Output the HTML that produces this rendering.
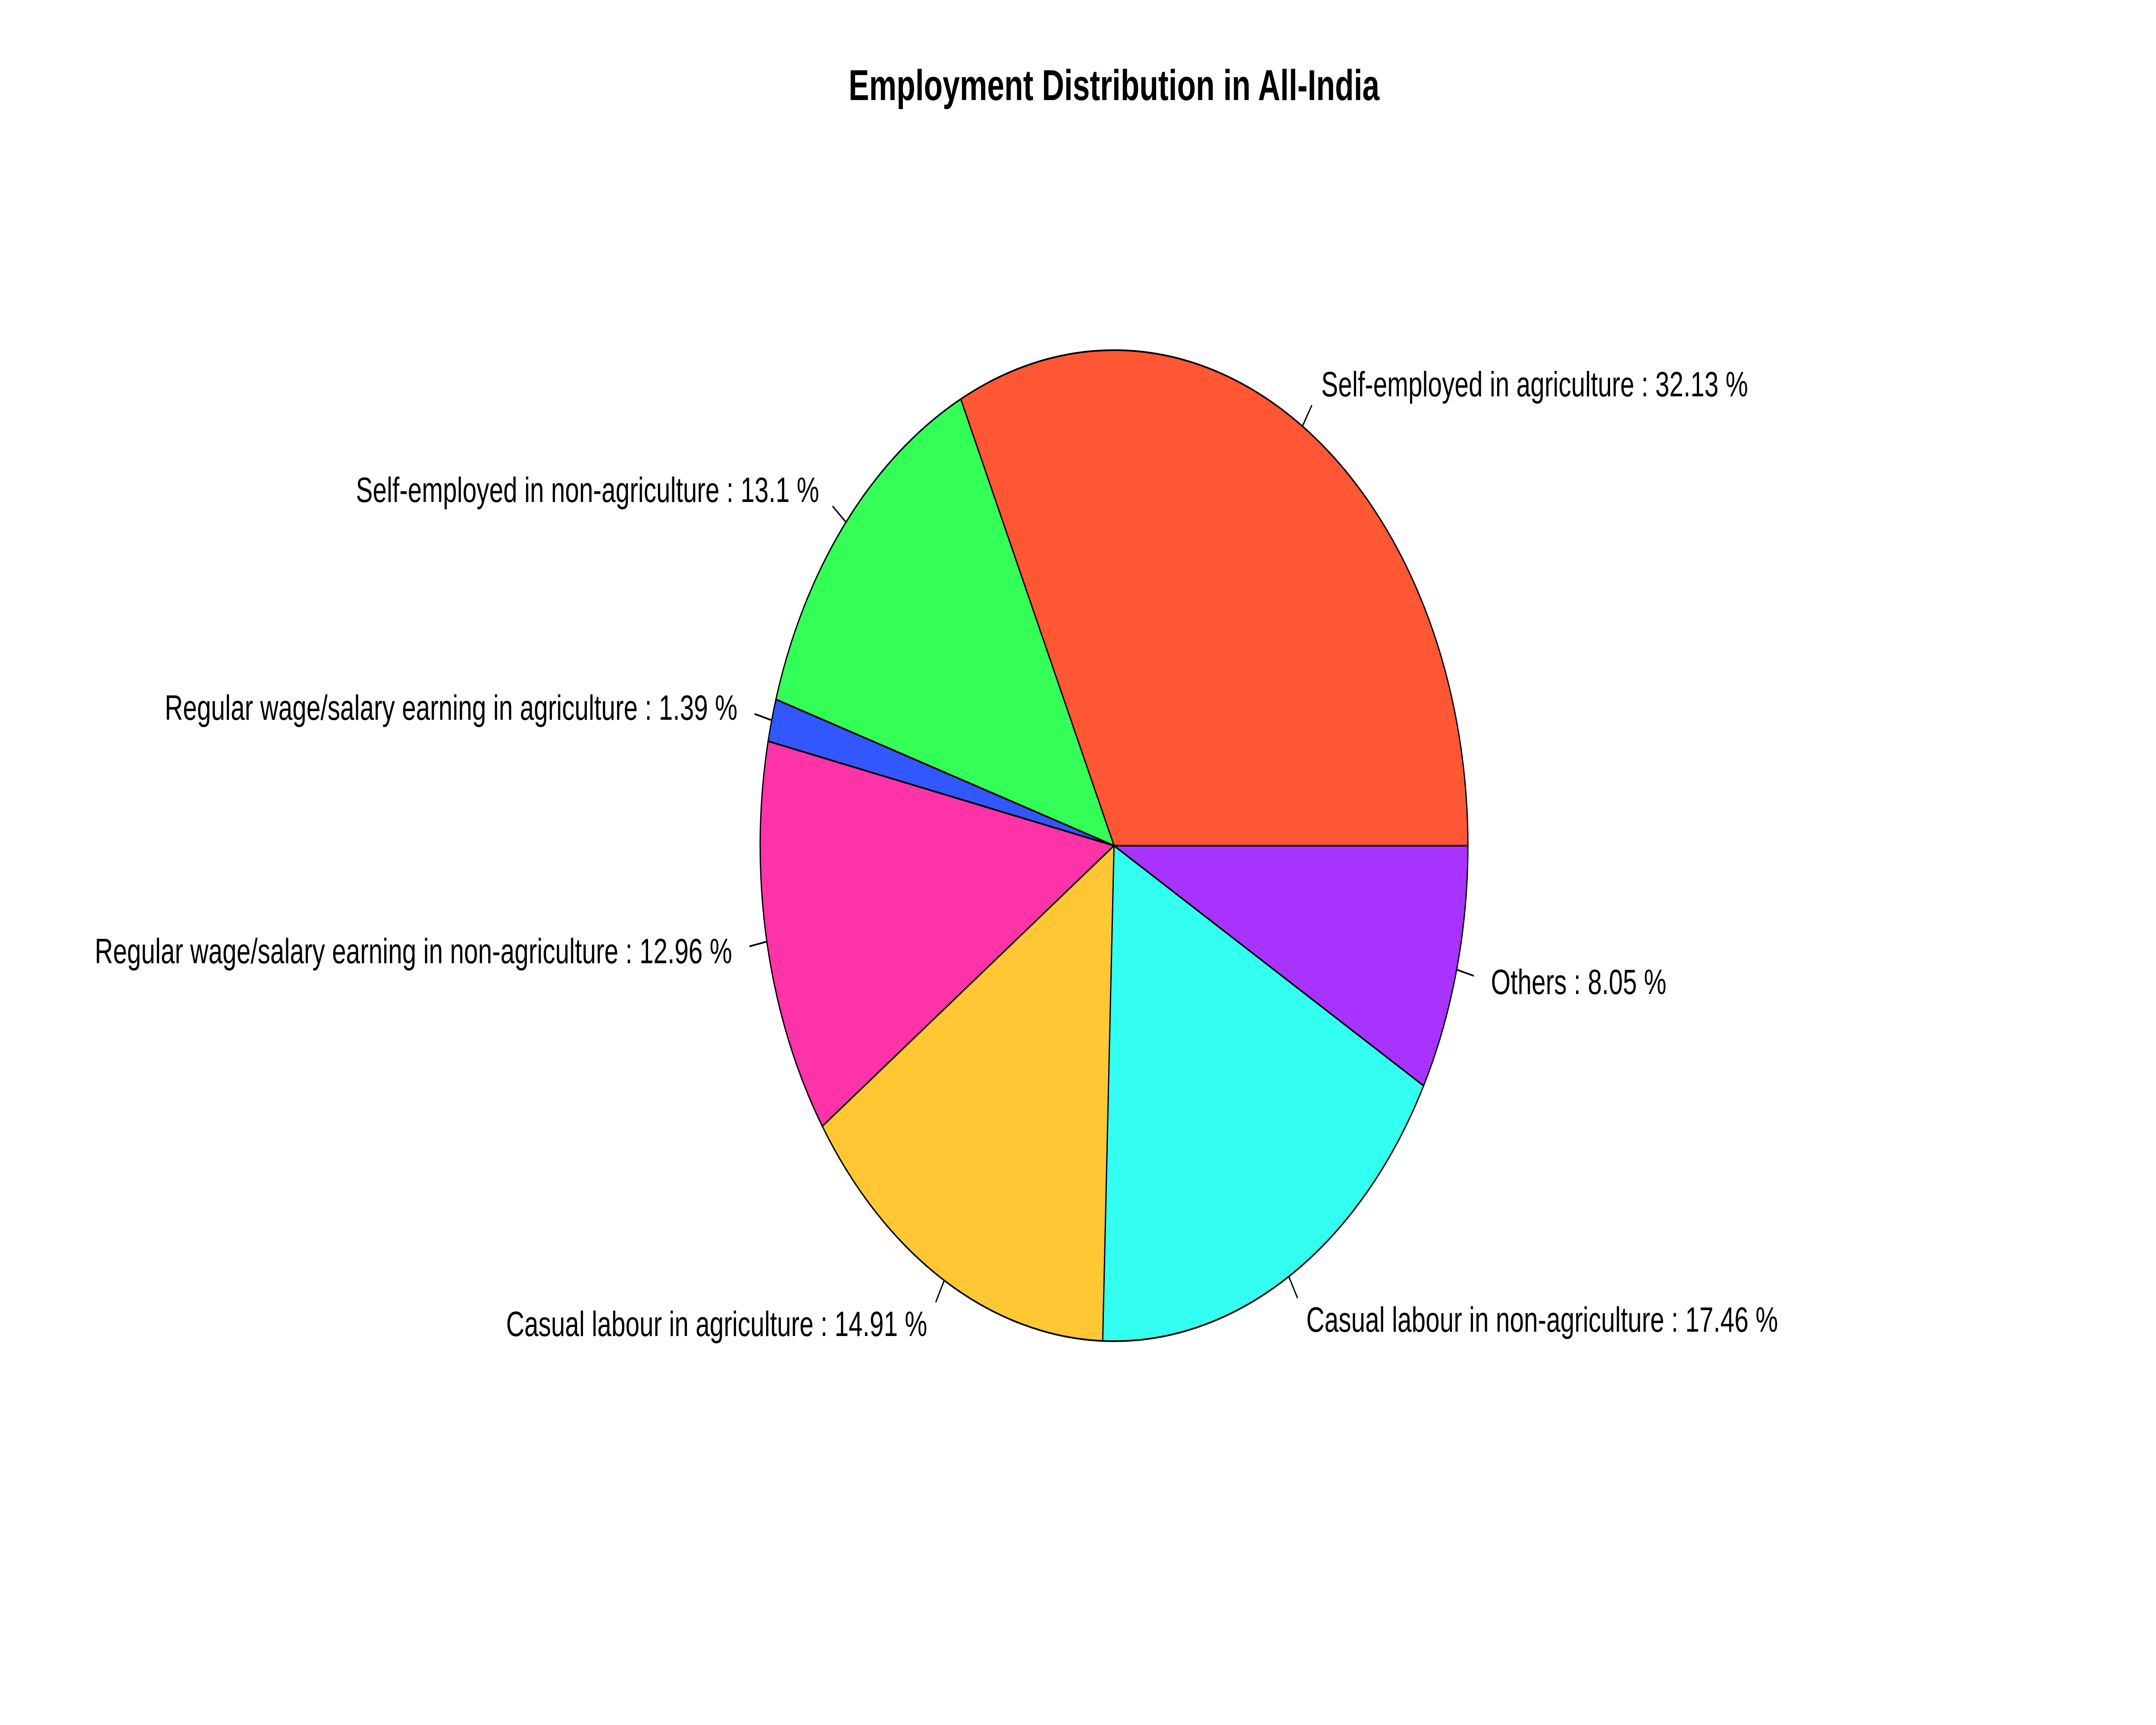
<!DOCTYPE html>
<html><head><meta charset="utf-8"><style>html,body{margin:0;padding:0;background:#fff;width:100%;height:100%;overflow:hidden}svg{display:block;width:100vw;height:100vh}</style></head>
<body>
<svg id="chart" viewBox="0 0 7000 4000" preserveAspectRatio="none" xmlns="http://www.w3.org/2000/svg" font-family="'Liberation Sans', Arial, sans-serif">
<rect width="7000" height="4000" fill="#fff"/>
<text x="3617" y="232" text-anchor="middle" font-size="100" font-weight="bold">Employment Distribution in All-India</text>
<g id="slices"></g>
<g id="labels"></g>
</svg>
<script>
const categories = ["Self-employed in agriculture","Self-employed in non-agriculture","Regular wage/salary earning in agriculture","Regular wage/salary earning in non-agriculture","Casual labour in agriculture","Casual labour in non-agriculture","Others"];
const values = [32.13, 13.1, 1.39, 12.96, 14.91, 17.46, 8.05];
const colors = ["#FF5733","#33FF57","#3357FF","#FF33A8","#FFC733","#33FFF0","#A833FF"];
const NS = "http://www.w3.org/2000/svg";
const cx = 3617, cy = 1961, r = 1149;
const total = values.reduce((a,b)=>a+b,0);
const sg = document.getElementById('slices'), lg = document.getElementById('labels');
function pt(a, k){ return [cx + k*r*Math.cos(a), cy - k*r*Math.sin(a)]; }
let cum = 0;
values.forEach((v,i)=>{
  const a0 = cum/total*2*Math.PI; cum += v; const a1 = cum/total*2*Math.PI;
  const p0 = pt(a0,1), p1 = pt(a1,1);
  const large = (a1-a0) > Math.PI ? 1 : 0;
  const path = document.createElementNS(NS,'path');
  path.setAttribute('d', `M${cx},${cy} L${p0[0]},${p0[1]} A${r},${r} 0 ${large} 0 ${p1[0]},${p1[1]} Z`);
  path.setAttribute('fill', colors[i]); path.setAttribute('stroke','#000'); path.setAttribute('stroke-width','4');
  
  
  sg.appendChild(path);
  const am = (a0+a1)/2;
  const t0 = pt(am,1), t1 = pt(am,1.05), tl = pt(am,1.1);
  const ln = document.createElementNS(NS,'line');
  ln.setAttribute('x1',t0[0]); ln.setAttribute('y1',t0[1]); ln.setAttribute('x2',t1[0]); ln.setAttribute('y2',t1[1]);
  ln.setAttribute('stroke','#000'); ln.setAttribute('stroke-width','4');
  
  
  lg.appendChild(ln);
  const tx = document.createElementNS(NS,'text');
  tx.setAttribute('x', tl[0]); tx.setAttribute('y', tl[1] + 28);
  tx.setAttribute('font-size','82');
  tx.setAttribute('text-anchor', Math.cos(am) < 0 ? 'end' : 'start');
  tx.textContent = categories[i] + ' : ' + v + ' %';
  
  
  lg.appendChild(tx);
});
</script>
</body></html>
